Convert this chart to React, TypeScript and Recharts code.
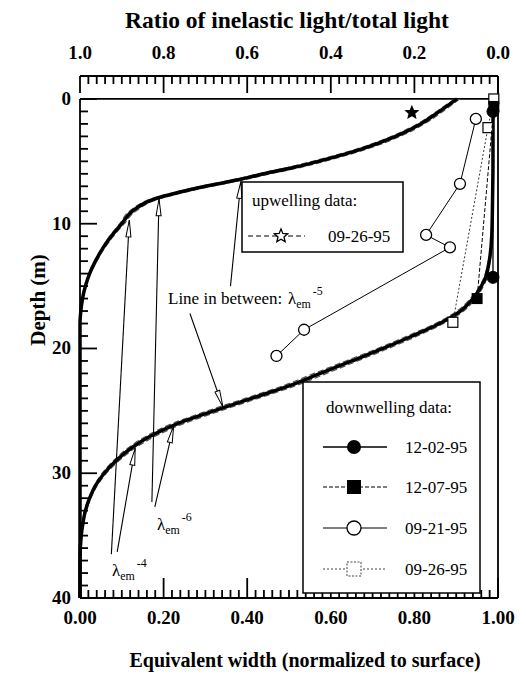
import React from "react";
import {
  ComposedChart,
  Line,
  Scatter,
  XAxis,
  YAxis,
  ReferenceLine,
} from "recharts";

// model curves: upper one is read on the top axis (ratio), lower one on the bottom axis (EW)
const upperDepth = [0, 1, 2, 3, 4, 5, 5.5, 6, 6.5, 7, 7.5, 8, 9, 10, 11, 12, 13, 14, 15, 16, 17, 18, 20, 25, 30, 35, 40];
const upperRatio5 = [0.098, 0.14, 0.185, 0.245, 0.325, 0.43, 0.49, 0.56, 0.625, 0.7, 0.765, 0.82, 0.875, 0.9, 0.925, 0.946, 0.963, 0.977, 0.987, 0.994, 0.998, 1, 1, 1, 1, 1, 1];
const upperRatio4 = [0.092, 0.132, 0.176, 0.234, 0.312, 0.415, 0.474, 0.545, 0.61, 0.686, 0.752, 0.81, 0.867, 0.894, 0.92, 0.942, 0.96, 0.975, 0.986, 0.993, 0.998, 1, 1, 1, 1, 1, 1];
const upperRatio6 = [0.104, 0.147, 0.193, 0.255, 0.337, 0.444, 0.505, 0.574, 0.638, 0.712, 0.776, 0.829, 0.882, 0.905, 0.929, 0.949, 0.966, 0.979, 0.988, 0.995, 0.999, 1, 1, 1, 1, 1, 1];

const lowerDepth = [0, 2, 5, 8, 11, 13, 14.5, 16, 17, 18, 19, 20, 21, 22, 23, 24, 25, 26, 27, 28, 29, 30, 31, 32, 33, 34, 35, 37, 40];
const lowerEw5 = [0.99, 0.988, 0.988, 0.987, 0.985, 0.979, 0.968, 0.94, 0.91, 0.86, 0.795, 0.725, 0.65, 0.575, 0.5, 0.41, 0.32, 0.235, 0.17, 0.122, 0.086, 0.058, 0.037, 0.023, 0.013, 0.007, 0.003, 0, 0];
const lowerEw4 = [0.99, 0.989, 0.989, 0.988, 0.986, 0.981, 0.972, 0.946, 0.918, 0.87, 0.807, 0.738, 0.664, 0.59, 0.515, 0.426, 0.336, 0.25, 0.182, 0.131, 0.093, 0.063, 0.041, 0.026, 0.015, 0.008, 0.004, 0, 0];
const lowerEw6 = [0.99, 0.987, 0.987, 0.986, 0.984, 0.977, 0.964, 0.934, 0.902, 0.85, 0.783, 0.712, 0.636, 0.56, 0.485, 0.395, 0.305, 0.222, 0.16, 0.114, 0.08, 0.053, 0.034, 0.021, 0.011, 0.006, 0.002, 0, 0];

// measured profiles
const d1202Ew = [0.988, 0.988];
const d1202Depth = [1.0, 14.3];
const d1207Ew = [0.99, 0.95];
const d1207Depth = [0.6, 16.0];
const d0921Ew = [0.947, 0.909, 0.828, 0.885, 0.536, 0.47];
const d0921Depth = [1.6, 6.8, 10.9, 11.9, 18.5, 20.6];
const d0926Ew = [0.99, 0.976, 0.892];
const d0926Depth = [0.0, 2.3, 17.9];
const upRatio = [0.206];
const upDepth = [1.1];

const depthMajor = [0, 10, 20, 30, 40];
const depthMinor = Array.from({ length: 41 }, (_, i) => i);
const unitMajor = [0, 0.2, 0.4, 0.6, 0.8, 1.0];
const unitMinor = Array.from({ length: 51 }, (_, i) => +(i * 0.02).toFixed(2));

const upper5 = upperDepth.map((d, i) => ({ depth: d, ratio: upperRatio5[i] }));
const upper4 = upperDepth.map((d, i) => ({ depth: d, ratio: upperRatio4[i] }));
const upper6 = upperDepth.map((d, i) => ({ depth: d, ratio: upperRatio6[i] }));
const lower5 = lowerDepth.map((d, i) => ({ depth: d, ew: lowerEw5[i] }));
const lower4 = lowerDepth.map((d, i) => ({ depth: d, ew: lowerEw4[i] }));
const lower6 = lowerDepth.map((d, i) => ({ depth: d, ew: lowerEw6[i] }));
const s1202 = d1202Ew.map((e, i) => ({ ew: e, depth: d1202Depth[i] }));
const s1207 = d1207Ew.map((e, i) => ({ ew: e, depth: d1207Depth[i] }));
const s0921 = d0921Ew.map((e, i) => ({ ew: e, depth: d0921Depth[i] }));
const s0926 = d0926Ew.map((e, i) => ({ ew: e, depth: d0926Depth[i] }));
const sUp = upRatio.map((r, i) => ({ ratio: r, depth: upDepth[i] }));

const W = 510;
const H = 671;
const PLOT_LEFT = 72;
const PLOT_RIGHT = 490;
const PLOT_BOTTOM = 590;
const STRIP_TOP = 68;
// the tick strip above depth 0 is part of the plot area
const D_MIN = -1.84;
const D_MAX = 40;
const PX_PER_EW = PLOT_RIGHT - PLOT_LEFT;
const PX_PER_M = (PLOT_BOTTOM - STRIP_TOP) / (D_MAX - D_MIN);
const FONT = "'Liberation Serif', 'Times New Roman', serif";

const isMajor = (v: number, step: number) => Math.abs(v / step - Math.round(v / step)) < 1e-6;

const DepthLabel = (props: any) => (
  <text x={PLOT_LEFT - 9} y={props.payload.coordinate + 6} textAnchor="end" fontFamily={FONT} fontWeight="bold" fontSize={19} fill="#000">
    {props.payload.value}
  </text>
);

const EwLabel = (props: any) => (
  <text x={props.payload.coordinate} y={PLOT_BOTTOM + 26} textAnchor="middle" fontFamily={FONT} fontWeight="bold" fontSize={19} fill="#000">
    {props.payload.value.toFixed(2)}
  </text>
);

const RatioLabel = (props: any) => (
  <text x={props.payload.coordinate} y={STRIP_TOP - 17} textAnchor="middle" fontFamily={FONT} fontWeight="bold" fontSize={19} fill="#000">
    {props.payload.value.toFixed(1)}
  </text>
);

const starPath = (cx: number, cy: number, r: number) => {
  const pts: string[] = [];
  for (let i = 0; i < 10; i++) {
    const a = -Math.PI / 2 + (i * Math.PI) / 5;
    const rr = i % 2 === 0 ? r : r * 0.45;
    pts.push(`${cx + rr * Math.cos(a)},${cy + rr * Math.sin(a)}`);
  }
  return "M" + pts.join("L") + "Z";
};

const FilledCircle = (p: any) => <circle cx={p.cx} cy={p.cy} r={6} fill="#000" stroke="#000" />;
const FilledSquare = (p: any) => <rect x={p.cx - 5.5} y={p.cy - 5.5} width={11} height={11} fill="#000" />;
const OpenCircle = (p: any) => <circle cx={p.cx} cy={p.cy} r={5.5} fill="#fff" stroke="#000" strokeWidth={1.3} />;
const OpenSquare = (p: any) => <rect x={p.cx - 5} y={p.cy - 5} width={10} height={10} fill="#fff" stroke="#000" strokeWidth={1.2} />;
const Star = (p: any) => <path d={starPath(p.cx, p.cy, 6)} fill="#000" stroke="#000" strokeWidth={1.5} />;

const Lambda = ({ x, y, exp, size = 17 }: { x: number; y: number; exp: string; size?: number }) => (
  <text x={x} y={y} fontFamily={FONT} fontSize={size} fill="#000">
    λ
    <tspan fontSize={size * 0.7} dy={4}>em</tspan>
    <tspan fontSize={size * 0.7} dy={-13} dx={2}>{exp}</tspan>
  </text>
);

const lineStyle = { stroke: "#000", strokeWidth: 1.8 };
const tickStyle = { stroke: "#000", strokeWidth: 1.8 };
const arrowProps = { stroke: "#000", strokeWidth: 1.1, markerEnd: "url(#arrowOpen)" };

export default function App() {
  // all inward tick marks are drawn against the (reversed) ratio axis: ratio 1 = EW 0
  const ratioTicks = unitMinor.map((v) => (
    <ReferenceLine key={"rt" + v} xAxisId="ratio" {...tickStyle}
      segment={[{ x: v, y: D_MIN }, { x: v, y: D_MIN + (isMajor(v, 0.2) ? 17 : 8) / PX_PER_M }]} />
  ));
  const bottomTicks = unitMinor.map((v) => (
    <ReferenceLine key={"bt" + v} xAxisId="ratio" {...tickStyle}
      segment={[{ x: +(1 - v).toFixed(2), y: D_MAX - (isMajor(v, 0.2) ? 20 : 8) / PX_PER_M }, { x: +(1 - v).toFixed(2), y: D_MAX - 0.01 }]} />
  ));
  const leftTicks = depthMinor.map((d) => (
    <ReferenceLine key={"lt" + d} xAxisId="ratio" {...tickStyle}
      segment={[{ x: 1 - (isMajor(d, 10) ? 17 : 8) / PX_PER_EW, y: d }, { x: 0.9999, y: d }]} />
  ));

  return (
    <div style={{ position: "relative", width: W, height: H }}>
      <svg width={0} height={0} style={{ position: "absolute" }}>
        <defs>
          <marker id="arrowOpen" markerWidth={20} markerHeight={10} refX={18} refY={4} orient="auto" markerUnits="userSpaceOnUse">
            <path d="M1,1.5 L18,4 L1,6.5 Z" fill="#fff" stroke="#000" strokeWidth={1} />
          </marker>
        </defs>
      </svg>
      <ComposedChart
        width={W}
        height={H}
        margin={{ top: STRIP_TOP - 1, right: W - PLOT_RIGHT, bottom: H - PLOT_BOTTOM - 1, left: PLOT_LEFT - 1 }}
      >
        <XAxis xAxisId="ew" dataKey="ew" type="number" domain={[0, 1]} ticks={unitMajor} interval={0}
          orientation="bottom" height={1} axisLine={false} tickLine={false} tick={<EwLabel />} />
        <XAxis xAxisId="ratio" dataKey="ratio" type="number" domain={[0, 1]} reversed ticks={unitMajor} interval={0}
          orientation="top" height={1} axisLine={false} tickLine={false} tick={<RatioLabel />} />
        <YAxis dataKey="depth" type="number" domain={[D_MIN, D_MAX]} reversed ticks={depthMajor} interval={0}
          width={1} axisLine={false} tickLine={false} tick={<DepthLabel />} />

        {ratioTicks}
        {bottomTicks}
        {leftTicks}

        {/* frame: plot box plus the tick strip on top */}
        <ReferenceLine xAxisId="ew" segment={[{ x: 0, y: 0 }, { x: 0, y: D_MAX }]} {...lineStyle} />
        <ReferenceLine xAxisId="ew" y={0} {...lineStyle} />
        <ReferenceLine xAxisId="ew" y={D_MAX} {...lineStyle} />
        <ReferenceLine xAxisId="ew" y={D_MIN} {...lineStyle} />
        <ReferenceLine xAxisId="ew" x={1} {...lineStyle} />

        <Line xAxisId="ratio" data={upper4} dataKey="depth" type="monotoneY" stroke="#555" strokeWidth={1.2} strokeDasharray="6 3" dot={false} isAnimationActive={false} />
        <Line xAxisId="ratio" data={upper6} dataKey="depth" type="monotoneY" stroke="#555" strokeWidth={1.2} strokeDasharray="6 3" dot={false} isAnimationActive={false} />
        <Line xAxisId="ratio" data={upper5} dataKey="depth" type="monotoneY" stroke="#000" strokeWidth={3.5} dot={false} isAnimationActive={false} />
        <Line xAxisId="ew" data={lower4} dataKey="depth" type="monotoneY" stroke="#555" strokeWidth={1.2} strokeDasharray="6 3" dot={false} isAnimationActive={false} />
        <Line xAxisId="ew" data={lower6} dataKey="depth" type="monotoneY" stroke="#555" strokeWidth={1.2} strokeDasharray="6 3" dot={false} isAnimationActive={false} />
        <Line xAxisId="ew" data={lower5} dataKey="depth" type="monotoneY" stroke="#000" strokeWidth={3.5} dot={false} isAnimationActive={false} />

        {/* arrows */}
        <ReferenceLine xAxisId="ew" segment={[{ x: 0.075, y: 36.5 }, { x: 0.118, y: 9.7 }]} {...arrowProps} />
        <ReferenceLine xAxisId="ew" segment={[{ x: 0.089, y: 36.3 }, { x: 0.132, y: 28.0 }]} {...arrowProps} />
        <ReferenceLine xAxisId="ew" segment={[{ x: 0.172, y: 32.3 }, { x: 0.189, y: 8.0 }]} {...arrowProps} />
        <ReferenceLine xAxisId="ew" segment={[{ x: 0.179, y: 32.7 }, { x: 0.224, y: 26.2 }]} {...arrowProps} />
        <ReferenceLine xAxisId="ew" segment={[{ x: 0.263, y: 17.2 }, { x: 0.342, y: 24.7 }]} {...arrowProps} />
        <ReferenceLine xAxisId="ew" segment={[{ x: 0.36, y: 15.0 }, { x: 0.385, y: 6.6 }]} {...arrowProps} />

        <Scatter xAxisId="ew" data={s0926} shape={<OpenSquare />} line={{ stroke: "#333", strokeWidth: 1, strokeDasharray: "2 2" }} isAnimationActive={false} />
        <Scatter xAxisId="ew" data={s0921} shape={<OpenCircle />} line={{ stroke: "#000", strokeWidth: 1 }} isAnimationActive={false} />
        <Scatter xAxisId="ew" data={s1207} shape={<FilledSquare />} line={{ stroke: "#000", strokeWidth: 1, strokeDasharray: "4 2" }} isAnimationActive={false} />
        <Scatter xAxisId="ew" data={s1202} shape={<FilledCircle />} line={{ stroke: "#000", strokeWidth: 1.3 }} isAnimationActive={false} />
        <Scatter xAxisId="ratio" data={sUp} shape={<Star />} isAnimationActive={false} />
      </ComposedChart>

      <svg width={W} height={H} style={{ position: "absolute", left: 0, top: 0, pointerEvents: "none" }}>
        <text x={279} y={20} textAnchor="middle" fontFamily={FONT} fontWeight="bold" fontSize={23.5} fill="#000">
          Ratio of inelastic light/total light
        </text>
        <text x={297} y={659} textAnchor="middle" fontFamily={FONT} fontWeight="bold" fontSize={20} fill="#000">
          Equivalent width (normalized to surface)
        </text>
        <text x={0} y={0} transform="translate(37,292) rotate(-90)" textAnchor="middle" fontFamily={FONT} fontWeight="bold" fontSize={21} fill="#000">
          Depth (m)
        </text>

        {/* upwelling legend */}
        <rect x={234} y={174} width={161} height={70} fill="#fff" stroke="#000" strokeWidth={1.5} />
        <text x={244} y={198} fontFamily={FONT} fontSize={17} fill="#000">upwelling data:</text>
        <line x1={240} x2={297} y1={228} y2={228} stroke="#000" strokeWidth={1} strokeDasharray="5 3" />
        <path d={starPath(273, 228, 7)} fill="#fff" stroke="#000" strokeWidth={1.3} />
        <text x={320} y={234} fontFamily={FONT} fontSize={17} fill="#000">09-26-95</text>

        {/* downwelling legend */}
        <rect x={295} y={374} width={177} height={211} fill="#fff" stroke="#000" strokeWidth={1.5} />
        <text x={318} y={405} fontFamily={FONT} fontSize={17} fill="#000">downwelling data:</text>
        <line x1={315} x2={379} y1={439} y2={439} stroke="#000" strokeWidth={1.3} />
        <circle cx={346} cy={439} r={7} fill="#000" />
        <text x={397} y={445} fontFamily={FONT} fontSize={17} fill="#000">12-02-95</text>
        <line x1={315} x2={379} y1={479} y2={479} stroke="#000" strokeWidth={1} strokeDasharray="4 2" />
        <rect x={339} y={472} width={14} height={14} fill="#000" />
        <text x={397} y={485} fontFamily={FONT} fontSize={17} fill="#000">12-07-95</text>
        <line x1={315} x2={379} y1={520} y2={520} stroke="#000" strokeWidth={1} />
        <circle cx={346} cy={520} r={7} fill="#fff" stroke="#000" strokeWidth={1.3} />
        <text x={397} y={526} fontFamily={FONT} fontSize={17} fill="#000">09-21-95</text>
        <line x1={315} x2={379} y1={561} y2={561} stroke="#444" strokeWidth={1} strokeDasharray="2 2" />
        <rect x={339} y={554} width={14} height={14} fill="#fff" stroke="#444" strokeWidth={1} strokeDasharray="2 1.5" />
        <text x={397} y={567} fontFamily={FONT} fontSize={17} fill="#000">09-26-95</text>

        {/* annotations */}
        <text x={160} y={296} fontFamily={FONT} fontSize={17} fill="#000">Line in between:</text>
        <Lambda x={280} y={296} exp="-5" />
        <Lambda x={149} y={522} exp="-6" />
        <Lambda x={104} y={568} exp="-4" />
      </svg>
    </div>
  );
}
